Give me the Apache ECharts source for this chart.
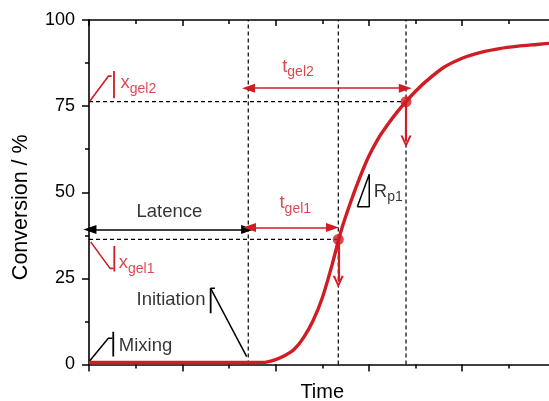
<!DOCTYPE html>
<html>
<head>
<meta charset="utf-8">
<script src="https://cdn.jsdelivr.net/npm/echarts@6/dist/echarts.min.js"></script>
<style>html,body{margin:0;padding:0;background:#fff}#c{width:549px;height:401px}</style>
</head>
<body>
<div id="c"></div>
<script>
// ---- data ----
const curveTime = [0, 0.5, 1.0, 1.5, 1.8, 1.9, 2.0, 2.1, 2.2, 2.3, 2.4, 2.5, 2.6, 2.7, 2.8, 2.9, 3.0, 3.1, 3.2, 3.3, 3.4, 3.5, 3.6, 3.8, 4.0, 4.2, 4.4, 4.6, 4.8, 5.0];
const curveConv = [0.6, 0.6, 0.6, 0.6, 0.6, 0.7, 1.4, 2.6, 4.4, 7.8, 12.6, 19.3, 28.4, 38.6, 46.8, 54.1, 60.5, 65.6, 69.6, 73.2, 76.4, 79.3, 81.9, 86.2, 88.9, 90.6, 91.7, 92.4, 92.9, 93.4];
const latenceEnd = 1.707;
const gelTime = [2.672, 3.398];
const gelConv = [36.3, 76.3];
const yTicks = [0, 25, 50, 75, 100];
const xTimeMax = 5;
// annotation shapes (data coordinates)
const xgel2Mark = [[0.01, 76.5], [0.207, 83.7], [0.243, 83.7]];
const xgel2Bar = [[0.268, 85.2], [0.268, 77.3]];
const xgel1Mark = [[0.018, 35.6], [0.225, 27.9], [0.26, 27.9]];
const xgel1Bar = [[0.271, 34.4], [0.271, 27.0]];
const mixMark = [[0.0, 0.8], [0.207, 7.6], [0.25, 7.6]];
const mixBar = [[0.26, 9.5], [0.26, 2.3]];
const initMark = [[1.35, 22.1], [1.304, 22.1], [1.69, 2.3]];
const initBar = [[1.304, 22.1], [1.304, 14.9]];
const rpTriangle = [[2.876, 45.8], [3.004, 55.2], [3.004, 45.8], [2.876, 45.8]];
const arrowLatence = [[0.01, 39.2], [1.70, 39.2]];
const arrowTgel1 = [[1.72, 39.8], [2.61, 39.8]];
const arrowTgel2 = [[1.71, 80.2], [3.39, 80.2]];
const arrowDown1End = 24.0;
const arrowDown2End = 64.7;
// labels: [x, y, text, colour]
const labels = [
  [0.504, 44.35, '{m|Latence}', 'k'],
  [0.504, 18.8, '{m|Initiation}', 'k'],
  [0.314, 5.28, '{m|Mixing}', 'k'],
  [0.332, 81.7, '{m|x}{s|gel2}', 'r'],
  [0.314, 29.4, '{m|x}{s|gel1}', 'r'],
  [2.065, 86.5, '{m|t}{s|gel2}', 'r'],
  [2.036, 46.9, '{m|t}{s|gel1}', 'r'],
  [3.047, 50.2, '{m|R}{s|p1}', 'k']
];

const RED = '#d01c24';
const FONT = 'Liberation Sans, Arial, sans-serif';

const chart = echarts.init(document.getElementById('c'), null, {renderer: 'canvas'});

function poly(data, color, width, dashed, z) {
  return {
    type: 'line', data: data, symbol: 'none', silent: true, animation: false,
    lineStyle: {color: color, width: width || 1.5, type: dashed ? [4, 3] : 'solid'},
    z: z || 3
  };
}
const chevron = 'path://M5,0 L10,11 L8,11 L5,4 L2,11 L0,11 Z';

const series = [
  // dashed guide lines
  poly([[latenceEnd, 0], [latenceEnd, 100]], '#000', 1.2, true, 2),
  poly([[gelTime[0], 0], [gelTime[0], 100]], '#000', 1.2, true, 2),
  poly([[gelTime[1], 0], [gelTime[1], 100]], '#000', 1.2, true, 2),
  poly([[0, gelConv[0]], [gelTime[0], gelConv[0]]], '#000', 1.2, true, 2),
  poly([[0, gelConv[1]], [gelTime[1], gelConv[1]]], '#000', 1.2, true, 2),
  // brackets
  poly(xgel2Mark, RED, 1.6), poly(xgel2Bar, RED, 1.8),
  poly(xgel1Mark, RED, 1.6), poly(xgel1Bar, RED, 1.8),
  poly(mixMark, '#000', 1.5), poly(mixBar, '#000', 1.8),
  poly(initMark, '#000', 1.5), poly(initBar, '#000', 1.8),
  poly(rpTriangle, '#000', 1.5),
  // arrows
  {
    type: 'line', data: [], silent: true, animation: false,
    markLine: {
      silent: true, animation: false, label: {show: false},
      symbolSize: [9, 13],
      data: [
        [{coord: arrowLatence[0], symbol: 'triangle', lineStyle: {color: '#000', width: 1.6, type: 'solid'}, itemStyle: {color: '#000'}},
         {coord: arrowLatence[1], symbol: 'triangle'}],
        [{coord: arrowTgel1[0], symbol: 'triangle', lineStyle: {color: RED, width: 1.6, type: 'solid'}, itemStyle: {color: RED}},
         {coord: arrowTgel1[1], symbol: 'triangle'}],
        [{coord: arrowTgel2[0], symbol: 'triangle', lineStyle: {color: RED, width: 1.6, type: 'solid'}, itemStyle: {color: RED}},
         {coord: arrowTgel2[1], symbol: 'triangle'}],
        [{coord: [gelTime[0], gelConv[0]], symbol: 'none', lineStyle: {color: RED, width: 2.2, type: 'solid'}, itemStyle: {color: RED}},
         {coord: [gelTime[0], arrowDown1End], symbol: chevron, symbolSize: [11, 12]}],
        [{coord: [gelTime[1], gelConv[1]], symbol: 'none', lineStyle: {color: RED, width: 2.2, type: 'solid'}, itemStyle: {color: RED}},
         {coord: [gelTime[1], arrowDown2End], symbol: chevron, symbolSize: [11, 12]}]
      ]
    }
  },
  // curve
  {
    type: 'line', data: curveTime.map((t, i) => [t, curveConv[i]]),
    symbol: 'none', smooth: 0.25, silent: true, animation: false,
    lineStyle: {color: RED, width: 3.4}, z: 5
  },
  // gel points
  {
    type: 'scatter', data: gelTime.map((t, i) => [t, gelConv[i]]),
    symbol: 'circle', symbolSize: 11, itemStyle: {color: RED}, z: 6, silent: true, animation: false
  },
  // text labels
  {
    type: 'scatter', silent: true, animation: false, z: 7,
    symbolSize: 1, itemStyle: {color: 'rgba(0,0,0,0)'},
    data: labels.map(l => ({
      value: [l[0], l[1]],
      label: {
        show: true, position: 'right', distance: 0,
        formatter: l[2],
        rich: {
          m: {fontSize: 18.5, fontFamily: FONT, color: l[3] === 'r' ? RED : '#000', lineHeight: 20, verticalAlign: 'middle'},
          s: {fontSize: 14, fontFamily: FONT, color: l[3] === 'r' ? RED : '#000', lineHeight: 14, padding: [12, 0, 0, 0], verticalAlign: 'middle'}
        }
      }
    }))
  }
];

const axisLineStyle = {color: '#000', width: 1.6};

chart.setOption({
  animation: false,
  backgroundColor: '#fff',
  grid: {left: 89, top: 20, right: -6.5, bottom: 36.5, containLabel: false, outerBoundsMode: 'none'},
  xAxis: [{
    type: 'value', min: 0, max: xTimeMax, interval: 1, position: 'bottom',
    name: 'Time', nameLocation: 'middle', nameGap: 18,
    nameTextStyle: {fontSize: 20, fontFamily: FONT, color: '#000'},
    axisLine: {show: true, onZero: false, lineStyle: axisLineStyle},
    axisTick: {show: true, inside: false, length: 7, lineStyle: {color: '#000', width: 1.5}},
    minorTick: {show: true, splitNumber: 2, length: 4, lineStyle: {color: '#000', width: 1.5}},
    axisLabel: {show: false}, splitLine: {show: false}
  }, {
    type: 'value', min: 0, max: xTimeMax, interval: 1, position: 'top',
    axisLine: {show: true, onZero: false, lineStyle: axisLineStyle},
    axisTick: {show: true, inside: true, length: 6, lineStyle: {color: '#000', width: 1.5}},
    minorTick: {show: true, splitNumber: 2, length: 4, lineStyle: {color: '#000', width: 1.5}},
    axisLabel: {show: false}, splitLine: {show: false}
  }],
  yAxis: [{
    type: 'value', min: yTicks[0], max: yTicks[yTicks.length - 1], interval: 25,
    name: 'Conversion / %', nameLocation: 'middle', nameGap: 57,
    nameTextStyle: {fontSize: 21.5, fontFamily: FONT, color: '#000', padding: [0, 30, 0, 0]},
    axisLine: {show: true, onZero: false, lineStyle: axisLineStyle},
    axisTick: {show: true, inside: false, length: 7, lineStyle: {color: '#000', width: 1.5}},
    minorTick: {show: true, splitNumber: 2, length: 4, lineStyle: {color: '#000', width: 1.5}},
    axisLabel: {show: true, margin: 14, fontSize: 18, fontFamily: FONT, color: '#000',
      formatter: v => yTicks.indexOf(v) >= 0 ? String(v) : ''},
    splitLine: {show: false}
  }],
  series: series
});
</script>
</body>
</html>
